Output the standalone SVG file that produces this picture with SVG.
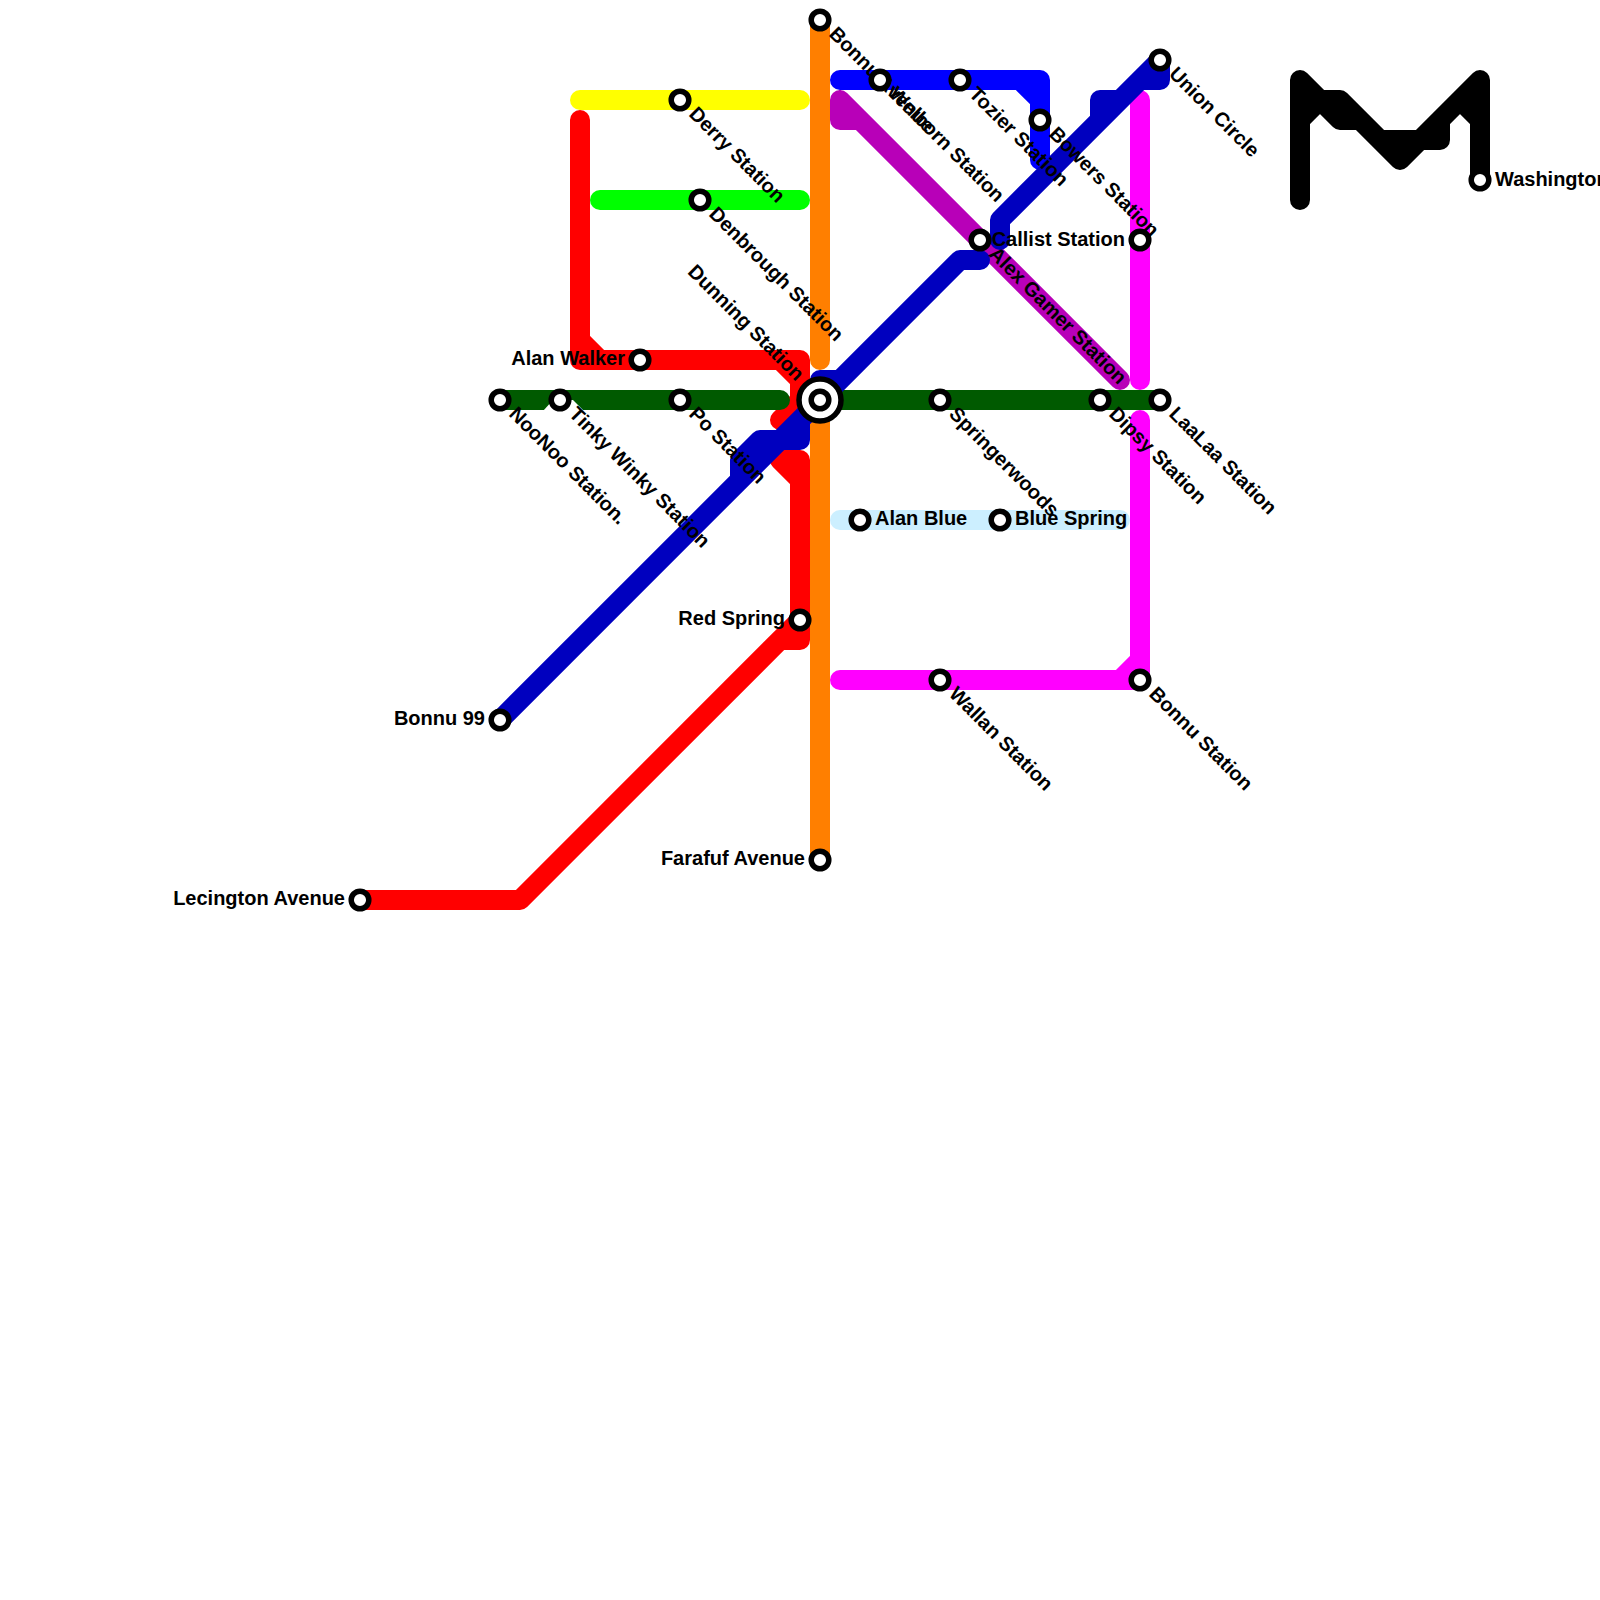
<svg xmlns="http://www.w3.org/2000/svg" width="1600" height="1600" viewBox="0 0 1600 1600">
<style>
.l{fill:none;stroke-width:20;stroke-linecap:round;stroke-linejoin:round}
.s{fill:#fff;stroke:#000;stroke-width:5.5}
text{font-family:"Liberation Sans",Arial,sans-serif;font-size:20px;font-weight:bold;fill:#000}
.e{text-anchor:end}
</style>
<rect width="1600" height="1600" fill="#fff"/>
<g id="connectors">
<path class="l" stroke="#ff0000" d="M580 120V360H800V400L780 420M580 340L600 360M780 360L800 380M360 900H520L800 620V640H780M800 620V460H780L800 480"/>
<path class="l" stroke="#ffff00" d="M580 100H800"/>
<path class="l" stroke="#00ff00" d="M600 200H800"/>
<path class="l" stroke="#005a00" d="M500 400H780M820 400H1160"/>
<polygon fill="#fff" points="543,411 553,400 573,400 584,411"/>
<path class="l" stroke="#ff7f00" d="M820 20V360M820 420V860"/>
<path class="l" stroke="#ccefff" d="M840 520H1120"/>
<path class="l" stroke="#ff00ff" d="M1140 100V380M1140 420V680H840M1120 680L1140 660"/>
<path class="l" stroke="#0000ff" d="M840 80H1040V160M1020 80L1040 100"/>
<path class="l" stroke="#b800b8" d="M840 100V120H860M840 100L1120 380"/>
<path class="l" stroke="#0000bf" d="M500 720L960 260H980M820 400V380H840M800 420V440H760L740 460V480M1000 240V220L1160 60V80H1140M1100 120V100H1120"/>
<path class="l" stroke="#000000" d="M1300 200V80L1320 100H1340L1380 140H1420L1480 80V180M1300 120L1320 100L1340 120H1360L1400 160L1420 140H1440V120L1460 100L1480 120"/>
</g>
<g id="interchange"><circle cx="820" cy="400" r="21" fill="#fff" stroke="#000" stroke-width="5.5"/><circle cx="820" cy="400" r="8.8" fill="#fff" stroke="#000" stroke-width="5.5"/></g>
<g id="dunning"><text class="e" transform="translate(796 382) rotate(45)">Dunning Station</text></g>
<g id="bonnu-top"><circle class="s" cx="820" cy="20" r="8.8"/><text transform="translate(828 35) rotate(45)">Bonnu Avenue</text></g>
<g id="welborn"><circle class="s" cx="880" cy="80" r="8.8"/><text transform="translate(888 95) rotate(45)">Welborn Station</text></g>
<g id="tozier"><circle class="s" cx="960" cy="80" r="8.8"/><text transform="translate(968 95) rotate(45)">Tozier Station</text></g>
<g id="bowers"><circle class="s" cx="1040" cy="120" r="8.8"/><text transform="translate(1048 135) rotate(45)">Bowers Station</text></g>
<g id="union"><circle class="s" cx="1160" cy="60" r="8.8"/><text transform="translate(1168 75) rotate(45)">Union Circle</text></g>
<g id="washington"><circle class="s" cx="1480" cy="180" r="8.8"/><text x="1495" y="185.5">Washington</text></g>
<g id="derry"><circle class="s" cx="680" cy="100" r="8.8"/><text transform="translate(688 115) rotate(45)">Derry Station</text></g>
<g id="denbrough"><circle class="s" cx="700" cy="200" r="8.8"/><text transform="translate(708 215) rotate(45)">Denbrough Station</text></g>
<g id="callist"><circle class="s" cx="980" cy="240" r="8.8"/><text class="e" x="1125" y="245.5">Callist Station</text></g>
<g id="alex"><text transform="translate(988 255) rotate(45)">Alex Gamer Station</text></g>
<g id="callist2"><circle class="s" cx="1140" cy="240" r="8.8"/></g>
<g id="alan-walker"><circle class="s" cx="640" cy="360" r="8.8"/><text class="e" x="625" y="364.5">Alan Walker</text></g>
<g id="noonoo"><circle class="s" cx="500" cy="400" r="8.8"/><text transform="translate(508 415) rotate(45)">NooNoo Station.</text></g>
<g id="tinky"><circle class="s" cx="560" cy="400" r="8.8"/><text transform="translate(568 415) rotate(45)">Tinky Winky Station</text></g>
<g id="po"><circle class="s" cx="680" cy="400" r="8.8"/><text transform="translate(688 415) rotate(45)">Po Station</text></g>
<g id="springerwoods"><circle class="s" cx="940" cy="400" r="8.8"/><text transform="translate(948 415) rotate(45)">Springerwoods</text></g>
<g id="dipsy"><circle class="s" cx="1100" cy="400" r="8.8"/><text transform="translate(1108 415) rotate(45)">Dipsy Station</text></g>
<g id="laalaa"><circle class="s" cx="1160" cy="400" r="8.8"/><text transform="translate(1168 415) rotate(45)">LaaLaa Station</text></g>
<g id="alan-blue"><circle class="s" cx="860" cy="520" r="8.8"/><text x="875" y="525">Alan Blue</text></g>
<g id="blue-spring"><circle class="s" cx="1000" cy="520" r="8.8"/><text x="1015" y="525">Blue Spring</text></g>
<g id="red-spring"><circle class="s" cx="800" cy="620" r="8.8"/><text class="e" x="785" y="624.5">Red Spring</text></g>
<g id="wallan"><circle class="s" cx="940" cy="680" r="8.8"/><text transform="translate(948 695) rotate(45)">Wallan Station</text></g>
<g id="bonnu-station"><circle class="s" cx="1140" cy="680" r="8.8"/><text transform="translate(1148 695) rotate(45)">Bonnu Station</text></g>
<g id="bonnu99"><circle class="s" cx="500" cy="720" r="8.8"/><text class="e" x="485" y="724.5">Bonnu 99</text></g>
<g id="farafuf"><circle class="s" cx="820" cy="860" r="8.8"/><text class="e" x="805" y="864.5">Farafuf Avenue</text></g>
<g id="lecington"><circle class="s" cx="360" cy="900" r="8.8"/><text class="e" x="345" y="904.5">Lecington Avenue</text></g>
</svg>
